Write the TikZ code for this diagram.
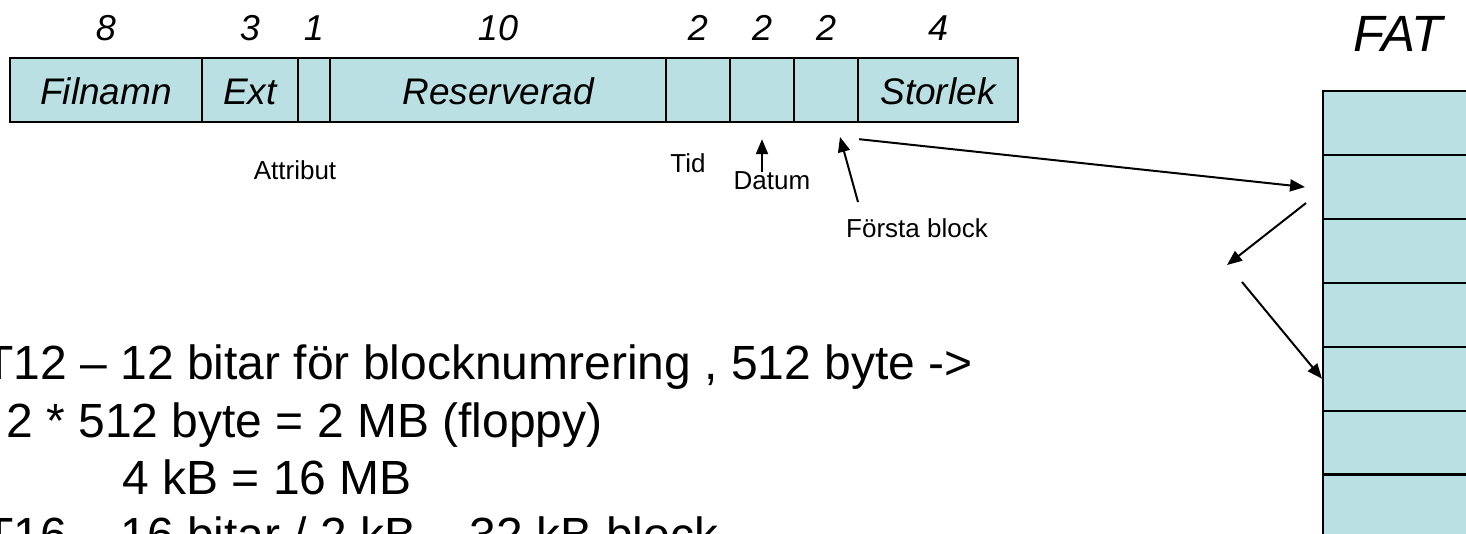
\documentclass[tikz,border=0pt]{standalone}
\usepackage{fontspec}
\setmainfont{Liberation Sans}
\usetikzlibrary{arrows.meta}
\definecolor{cellblue}{RGB}{187,224,227}
\newcommand{\rowh}{32pt}
\newcommand{\framew}{1.2pt}

\begin{document}
\begin{tikzpicture}[x=0.5pt,y=-0.5pt,
    field/.style={draw, fill=cellblue, line width=\framew, minimum height=\rowh, inner sep=0pt,
                  text height=15pt, text depth=0pt, font=\fontsize{18.5}{20}\selectfont\itshape},
    bytes/.style={anchor=base, inner sep=0pt, font=\fontsize{18}{20}\selectfont\itshape},
    note/.style={anchor=base, inner sep=0pt, font=\fontsize{13}{15}\selectfont},
    textline/.style={anchor=base west, inner sep=0pt, font=\fontsize{24}{28}\selectfont},
    ptr/.style={-{Triangle[length=7.5pt,width=6pt]}, line width=1pt}]
            %\draw[help lines] (0,0) grid[step=100] (1466,534);
            \useasboundingbox (0,0) rectangle (1466,534);
            \clip (0,0) rectangle (1466,534);
            % directory entry
            \foreach \l/\r/\n/\t/\b in {10/202/fname/Filnamn/8, 202/298/fext/Ext/3, 298/330/fattr//1,
                330/666/fres/Reserverad/10, 666/730/ftime//2, 730/794/fdate//2, 794/858/fblock//2,
                858/1018/fsize/Storlek/4}
            {
                \node[field, minimum width={(\r-\l)*0.5pt}] (\n) at ({(\l+\r)/2},90) {\t};
                \node[bytes] (\n-b) at ({(\l+\r)/2},41) {\b};
            }
            \node[note] (attr) at (295,180) {Attribut};
            \node[note] (tid) at (688,173) {Tid};
            \node[note] (datum) at (772,190) {Datum};
            \node[note] (first) at (917,238) {Första block};
            % the table
            \node[bytes, font=\fontsize{25.5}{28}\selectfont\itshape] (fat) at (1398,52) {FAT};
            \foreach \i in {0,...,7}
                \node[field, minimum width=100pt, minimum height=31.95pt, anchor=north west] (fat\i) at (1322,{90+\i*63.9}) {};
            \coordinate (blocktail) at (858,202);
            \coordinate (blocktip) at (840,137);
            \coordinate (jump) at (1227,265);
            \coordinate (resume) at (1242,282);
            \draw[ptr] (datum.north -| fdate) -- ([yshift=-8pt]fdate.south);
            \draw[ptr] (blocktail) -- (blocktip);
            \draw[ptr] ([yshift=-8pt]fblock.south east) -- ([xshift=-8.5pt]fat1.west);
            \draw[ptr] ([xshift=-8pt,yshift=-8pt]fat1.west) -- (jump);
            \draw[ptr] (resume) -- (fat4.west);
            % sizes
            \node[textline] (fat12) at (-16,379) {T12 – 12 bitar för blocknumrering , 512 byte ->};
            \node[textline] (floppy) at (6,437) {2 * 512 byte = 2 MB (floppy)};
            \node[textline] (bigblock) at (122,494) {4 kB = 16 MB};
            \node[textline] (fat16) at (-16,551) {T16 – 16 bitar / 2 kB – 32 kB block};
\end{tikzpicture}
\end{document}
